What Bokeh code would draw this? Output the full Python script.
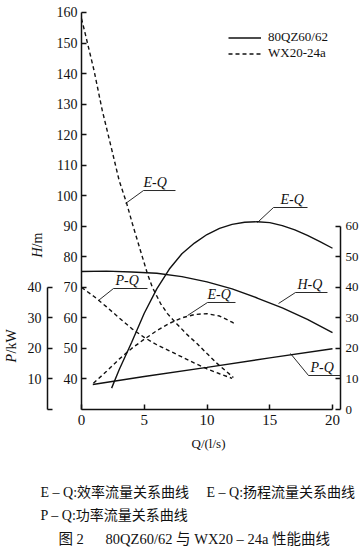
import math
from bokeh.plotting import figure
from bokeh.models import Range1d, LinearAxis, FixedTicker, Label, Legend, LegendItem
from bokeh.embed import file_html
from bokeh.resources import INLINE

# ---------------- data ----------------
# 80QZ60/62 (solid)
q_h_80 = [0, 2, 4, 6, 8, 10, 12, 14, 16, 18, 20]
h_80 = [75.2, 75.3, 75.0, 74.6, 73.5, 71.8, 69.5, 66.5, 63.3, 59.5, 55.2]
q_e_80 = [2.4, 3, 4, 5, 6, 7, 8, 9, 10, 11, 12, 13, 14, 15, 16, 17, 18, 19, 20]
e_80 = [7, 13, 22, 31.5, 39.5, 46, 51, 54.5, 57.3, 59.3, 60.6, 61.3, 61.5, 61.2, 60.2, 58.8, 57, 55, 52.8]
q_p_80 = [0.9, 5, 10, 15, 20]
p_80 = [8.2, 10.8, 13.8, 16.9, 19.9]

# WX20-24a (dashed)
q_h_wx = [0, 0.3, 1.0, 1.65, 2.3, 3.0, 3.6, 4.05, 4.7, 5.25, 5.65, 6.3, 6.85, 7.6, 8.4, 9.2, 10.0, 10.8, 11.5, 12.1]
h_wx = [158, 153, 141, 128, 117, 105, 97.5, 90.9, 82, 74.5, 70, 64.7, 61.4, 58, 54.6, 51.6, 48.3, 45.1, 42.6, 40.5]
q_e_wx = [0.95, 2, 3, 4, 5, 6, 7, 8, 9, 10, 11, 12, 12.3]
e_wx = [8.6, 12.5, 16.5, 20, 23, 25.8, 28.2, 30, 31.1, 31.4, 30.6, 28.6, 27.8]
q_p_wx = [0, 1, 2, 3, 4, 5, 6, 7, 8, 9, 10, 11, 12]
p_wx = [40, 37, 33.6, 30, 26.5, 23.6, 21.2, 19.2, 17.2, 15.2, 13.3, 11.7, 10.2]

x_ticks = [0, 5, 10, 15, 20]
h_ticks = [40, 50, 60, 70, 80, 90, 100, 110, 120, 130, 140, 150, 160]
p_ticks = [0, 10, 20, 30, 40]
e_ticks = [0, 10, 20, 30, 40, 50, 60]

series_names = ["80QZ60/62", "WX20-24a"]
x_title = "Q/(l/s)"
h_title = ["H", "/m"]
p_title = ["P", "/kW"]
caption1 = "E – Q:效率流量关系曲线\u3000 E – Q:扬程流量关系曲线"
caption2 = "P – Q:功率流量关系曲线"
caption3 = "图 2\u3000\u00a0\u00a080QZ60/62 与 WX20 – 24a 性能曲线"

# ---------------- layout constants ----------------
SERIF = "Liberation Serif"
CAP_FONT = "Liberation Serif, Noto Sans CJK SC"
INK = "#111111"
W, H = 362, 549
PX_Q = 12.55      # px per Q unit
PX_H = 3.054      # px per H unit
X0 = 81           # canvas x of Q=0
YB = 409          # canvas y of H=30
x_lo = -X0 / PX_Q
x_hi = (W - X0) / PX_Q
h_lo = 30 - (H - YB) / PX_H
h_hi = 30 + YB / PX_H

p = figure(width=W, height=H, output_backend="svg", toolbar_location=None,
           x_range=Range1d(x_lo, x_hi), y_range=Range1d(h_lo, h_hi),
           x_axis_type=None, y_axis_type=None,
           min_border_left=0, min_border_right=0, min_border_top=0, min_border_bottom=0)
p.outline_line_color = None
p.grid.visible = False
p.extra_y_ranges = {"P": Range1d(h_lo - 30, h_hi - 30), "E": Range1d(h_lo - 30, h_hi - 30)}

def style_axis(ax, size="14px", standoff=4):
    ax.axis_line_color = INK
    ax.axis_line_width = 1.5
    ax.major_tick_line_color = INK
    ax.major_tick_line_width = 1.5
    ax.major_tick_in = 5
    ax.major_tick_out = 0
    ax.minor_tick_line_color = None
    ax.major_label_text_font = SERIF
    ax.major_label_text_font_size = size
    ax.major_label_text_color = INK
    ax.major_label_standoff = standoff

# x axis
xa = LinearAxis(fixed_location=30)
style_axis(xa, "15px", 5)
xa.ticker = FixedTicker(ticks=x_ticks)
xa.bounds = (0, 20)
p.add_layout(xa, "below")

# H axis
ya = LinearAxis(fixed_location=0)
style_axis(ya, "14px", 4)
ya.ticker = FixedTicker(ticks=h_ticks)
ya.bounds = (30, 160)
p.add_layout(ya, "left")

# P axis
pa = LinearAxis(y_range_name="P", fixed_location=(47 - X0) / PX_Q)
style_axis(pa, "14px", 6)
pa.ticker = FixedTicker(ticks=p_ticks)
pa.bounds = (0, 40)
pa.major_label_overrides = {0: ""}
p.add_layout(pa, "left")

# E axis
ea = LinearAxis(y_range_name="E", fixed_location=(340 - X0) / PX_Q)
style_axis(ea, "13px", 5)
ea.ticker = FixedTicker(ticks=e_ticks)
ea.bounds = (0, 60)
p.add_layout(ea, "right")

# ---------------- curves ----------------
LW = 1.4
DASH = "4 3"
r_h80 = p.line(q_h_80, h_80, line_color=INK, line_width=LW)
p.line(q_e_80, e_80, y_range_name="E", line_color=INK, line_width=LW)
p.line(q_p_80, p_80, y_range_name="P", line_color=INK, line_width=LW)
r_hwx = p.line(q_h_wx, h_wx, line_color=INK, line_width=LW, line_dash=DASH)
p.line(q_e_wx, e_wx, y_range_name="E", line_color=INK, line_width=LW, line_dash=DASH)
p.line(q_p_wx, p_wx, y_range_name="P", line_color=INK, line_width=LW, line_dash=DASH)

# ---------------- curve tags (leader + shelf + text) ----------------
tags = [
    # text, leader start (q,h), elbow (q,h), shelf end q, text left q
    ("E-Q", (3.51, 97.45), (4.94, 101.7), 7.49, 4.94),
    ("E-Q", (14.02, 91.23), (15.30, 96.14), 18.01, 15.86),
    ("H-Q", (15.70, 64.71), (17.05, 68.31), 19.60, 17.21),
    ("P-Q", (16.65, 48.34), (18.09, 41.13), 20.64, 18.25),
    ("P-Q", (1.35, 65.69), (2.55, 69.62), 5.26, 2.71),
    ("E-Q", (8.45, 60.78), (10.04, 65.04), 12.27, 10.04),
]
for txt, a, b, xe, xt in tags:
    p.line([a[0], b[0], xe], [a[1], b[1], b[1]], line_color=INK, line_width=0.9)
    p.add_layout(Label(x=xt, y=b[1] + 0.3, text=txt, text_font=SERIF, text_font_style="italic",
                       text_font_size="14px", text_color=INK, text_baseline="bottom",
                       text_align="left"))

# ---------------- legend ----------------
legend = Legend(items=[LegendItem(label=series_names[0], renderers=[r_h80]),
                       LegendItem(label=series_names[1], renderers=[r_hwx])],
                location=(228, 488), orientation="vertical")
legend.border_line_alpha = 0
legend.background_fill_alpha = 0
legend.padding = 0
legend.margin = 0
legend.spacing = 0
legend.glyph_width = 33
legend.glyph_height = 15
legend.label_height = 15
legend.label_standoff = 7
legend.label_text_font = SERIF
legend.label_text_font_size = "13px"
legend.label_text_color = INK
p.add_layout(legend, "center")

# ---------------- titles (screen px from bottom-left of canvas) ----------------
def screen_label(txt, x, y, size="14px", style="normal", angle=0.0, align="left", font=SERIF):
    p.add_layout(Label(x=x, y=y, x_units="screen", y_units="screen", text=txt,
                       angle=angle, text_font=font, text_font_style=style,
                       text_font_size=size, text_align=align, text_baseline="middle",
                       text_color=INK))

# H/m : italic H, upright /m, reading upwards
screen_label(h_title[0], 37, 292, style="italic", angle=math.pi / 2)
screen_label(h_title[1], 37, 302, angle=math.pi / 2)
# P/kW : italic P, upright /kW
screen_label(p_title[0], 11, 187, style="italic", angle=math.pi / 2)
screen_label(p_title[1], 11, 196, angle=math.pi / 2)

screen_label(x_title, 208, 106, size="13px", align="center")
screen_label(caption1, 40, 57, font=CAP_FONT)
screen_label(caption2, 40, 34, font=CAP_FONT)
screen_label(caption3, 58, 11, size="14.5px", font=CAP_FONT)

open("out.html", "w").write(file_html(p, INLINE))
